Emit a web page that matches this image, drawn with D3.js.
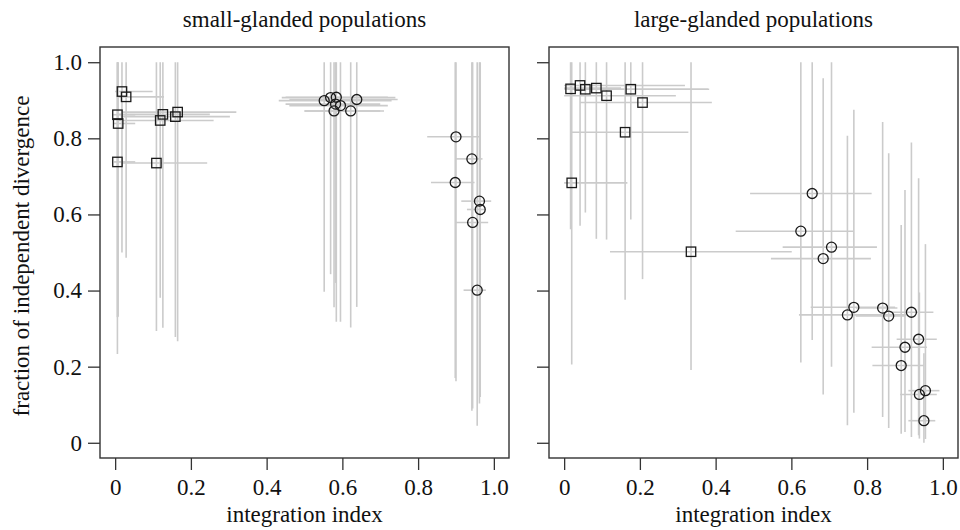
<!DOCTYPE html>
<html><head><meta charset="utf-8">
<script src="https://cdn.jsdelivr.net/npm/d3@7"></script>
<style>
html,body{margin:0;padding:0;background:#fff;}
text{font-family:"Liberation Serif","DejaVu Serif",serif;fill:#111;}
</style></head>
<body><svg id="c" width="960" height="530"></svg>
<script>
// ---------- data ----------
const panelTitles = ["small-glanded populations", "large-glanded populations"];
const tickValues = [0, 0.2, 0.4, 0.6, 0.8, 1.0];
const tickLabels = ["0", "0.2", "0.4", "0.6", "0.8", "1.0"];
const xLabel = "integration index";
const yLabel = "fraction of independent divergence";

// small-glanded panel
const smallShape = ["s","s","s","s","s","s","s","s","s","s",
  "c","c","c","c","c","c","c","c",
  "c","c","c","c","c","c","c"];
const smallX   = [0.018,0.029,0.006,0.008,0.126,0.119,0.165,0.159,0.006,0.109,
  0.552,0.569,0.584,0.582,0.595,0.578,0.622,0.638,
  0.900,0.942,0.898,0.962,0.964,0.944,0.956];
const smallY   = [0.923,0.909,0.862,0.839,0.863,0.847,0.869,0.857,0.738,0.735,
  0.899,0.907,0.908,0.890,0.886,0.872,0.872,0.902,
  0.804,0.746,0.684,0.635,0.613,0.579,0.401];
const smallXlo = [0.000,0.004,-0.005,-0.005,0.010,0.010,0.020,0.015,-0.003,0.020,
  0.432,0.440,0.450,0.450,0.460,0.500,0.500,0.460,
  0.824,0.900,0.834,0.914,0.929,0.898,0.920];
const smallXhi = [0.099,0.129,0.053,0.053,0.250,0.260,0.320,0.303,0.053,0.243,
  0.730,0.740,0.720,0.700,0.720,0.710,0.700,0.746,
  0.962,0.970,0.949,0.993,0.979,0.985,0.979];
const smallYlo = [0.500,0.486,0.233,0.331,0.302,0.381,0.267,0.278,0.330,0.294,
  0.397,0.443,0.318,0.420,0.318,0.356,0.303,0.357,
  0.162,0.084,0.170,0.103,0.120,0.090,0.045];
const smallYhi = [1,1,1,1,1,1,1,1,1,1,
  1,1,1,1,1,1,1,1,
  1,1,1,1,1,1,1];

// large-glanded panel
const largeShape = ["s","s","s","s","s","s","s","s","s","s",
  "c","c","c","c","c","c","c","c","c","c","c","c","c","c","c"];
const largeX   = [0.017,0.042,0.056,0.085,0.112,0.176,0.207,0.161,0.020,0.335,
  0.625,0.655,0.684,0.706,0.748,0.765,0.841,0.857,0.917,0.936,0.900,0.890,0.954,0.938,0.950];
const largeY   = [0.930,0.939,0.929,0.932,0.912,0.929,0.894,0.816,0.683,0.502,
  0.556,0.655,0.484,0.514,0.336,0.356,0.354,0.333,0.343,0.272,0.251,0.203,0.137,0.127,0.058];
const largeXlo = [0.000,0.000,0.010,0.000,0.000,0.020,0.042,0.020,0.000,0.121,
  0.453,0.491,0.546,0.577,0.620,0.651,0.770,0.770,0.860,0.878,0.812,0.814,0.909,0.887,0.909];
const largeXhi = [0.147,0.319,0.383,0.150,0.295,0.380,0.390,0.328,0.167,0.601,
  0.764,0.812,0.810,0.826,0.905,0.874,0.880,0.900,0.975,0.984,0.958,0.949,0.991,0.984,0.980];
const largeYlo = [0.561,0.570,0.605,0.536,0.534,0.587,0.430,0.376,0.206,0.191,
  0.211,0.270,0.127,0.200,0.046,0.079,0.068,0.039,0.015,0.020,0.028,0.024,0.010,0.011,0.000];
const largeYhi = [1,1,1,1,1,1,1,1,1,1,
  1,1,0.958,1,0.807,0.875,0.843,0.761,0.789,0.695,0.664,0.572,0.522,0.395,0.235];

// ---------- drawing ----------
const svg = d3.select("#c");
const FS = 23;
const SERIF = "'Liberation Serif', 'DejaVu Serif', serif";
const panels = [
  {title: panelTitles[0], x0: 100, x1: 509, shape: smallShape, X: smallX, Y: smallY,
   xlo: smallXlo, xhi: smallXhi, ylo: smallYlo, yhi: smallYhi, yLabels: true},
  {title: panelTitles[1], x0: 549, x1: 958, shape: largeShape, X: largeX, Y: largeY,
   xlo: largeXlo, xhi: largeXhi, ylo: largeYlo, yhi: largeYhi, yLabels: false}
];
const plotTop = 47, plotBottom = 458;
const y = d3.scaleLinear().domain([-0.04, 1.04]).range([plotBottom, plotTop]);
const greyC = "#cbcbcb";

panels.forEach(p => {
  const x = d3.scaleLinear().domain([-0.04, 1.04]).range([p.x0, p.x1]);
  const g = svg.append("g");
  const idx = d3.range(p.X.length);
  // error bars
  g.selectAll("line.v").data(idx).enter().append("line")
    .attr("x1", i => x(p.X[i])).attr("x2", i => x(p.X[i]))
    .attr("y1", i => y(p.yhi[i])).attr("y2", i => y(p.ylo[i]))
    .attr("stroke", greyC).attr("stroke-width", 1.6);
  g.selectAll("line.h").data(idx).enter().append("line")
    .attr("x1", i => x(p.xlo[i])).attr("x2", i => x(p.xhi[i]))
    .attr("y1", i => y(p.Y[i])).attr("y2", i => y(p.Y[i]))
    .attr("stroke", greyC).attr("stroke-width", 1.6);
  // markers
  const sq = idx.filter(i => p.shape[i] === "s");
  const ci = idx.filter(i => p.shape[i] === "c");
  g.selectAll("rect.m").data(sq).enter().append("rect")
    .attr("x", i => x(p.X[i]) - 4.7).attr("y", i => y(p.Y[i]) - 4.7)
    .attr("width", 9.4).attr("height", 9.4)
    .attr("fill", "none").attr("stroke", "#1a1a1a").attr("stroke-width", 1.3);
  g.selectAll("circle.m").data(ci).enter().append("circle")
    .attr("cx", i => x(p.X[i])).attr("cy", i => y(p.Y[i])).attr("r", 5)
    .attr("fill", "none").attr("stroke", "#1a1a1a").attr("stroke-width", 1.3);
  // box
  svg.append("rect").attr("x", p.x0).attr("y", plotTop).attr("width", p.x1 - p.x0).attr("height", plotBottom - plotTop)
    .attr("fill", "none").attr("stroke", "#333").attr("stroke-width", 1.4);
  // axes
  const fmt = v => tickLabels[tickValues.indexOf(v)];
  const ax = svg.append("g").attr("transform", `translate(0,${plotBottom})`)
    .call(d3.axisBottom(x).tickValues(tickValues).tickSize(12).tickPadding(9).tickFormat(fmt));
  const ay = svg.append("g").attr("transform", `translate(${p.x0},0)`)
    .call(d3.axisLeft(y).tickValues(tickValues).tickSize(12).tickPadding(6)
      .tickFormat(p.yLabels ? fmt : () => ""));
  [ax, ay].forEach(a => {
    a.attr("font-family", SERIF).attr("font-size", FS);
    a.select(".domain").remove();
    a.selectAll(".tick line").attr("stroke", "#333").attr("stroke-width", 1.3);
    a.selectAll(".tick text").style("font-size", FS + "px").attr("fill", "#111")
      .style("font-family", SERIF);
  });
  // title & x label
  svg.append("text").attr("x", (p.x0 + p.x1) / 2).attr("y", 27).attr("text-anchor", "middle")
    .style("font-size", FS + "px").style("font-family", SERIF).text(p.title);
  svg.append("text").attr("x", (p.x0 + p.x1) / 2).attr("y", 522).attr("text-anchor", "middle")
    .style("font-size", FS + "px").style("font-family", SERIF).text(xLabel);
});
svg.append("text").attr("transform", "translate(29,256) rotate(-90)").attr("text-anchor", "middle")
  .style("font-size", FS + "px").style("font-family", SERIF).text(yLabel);
</script></body></html>
